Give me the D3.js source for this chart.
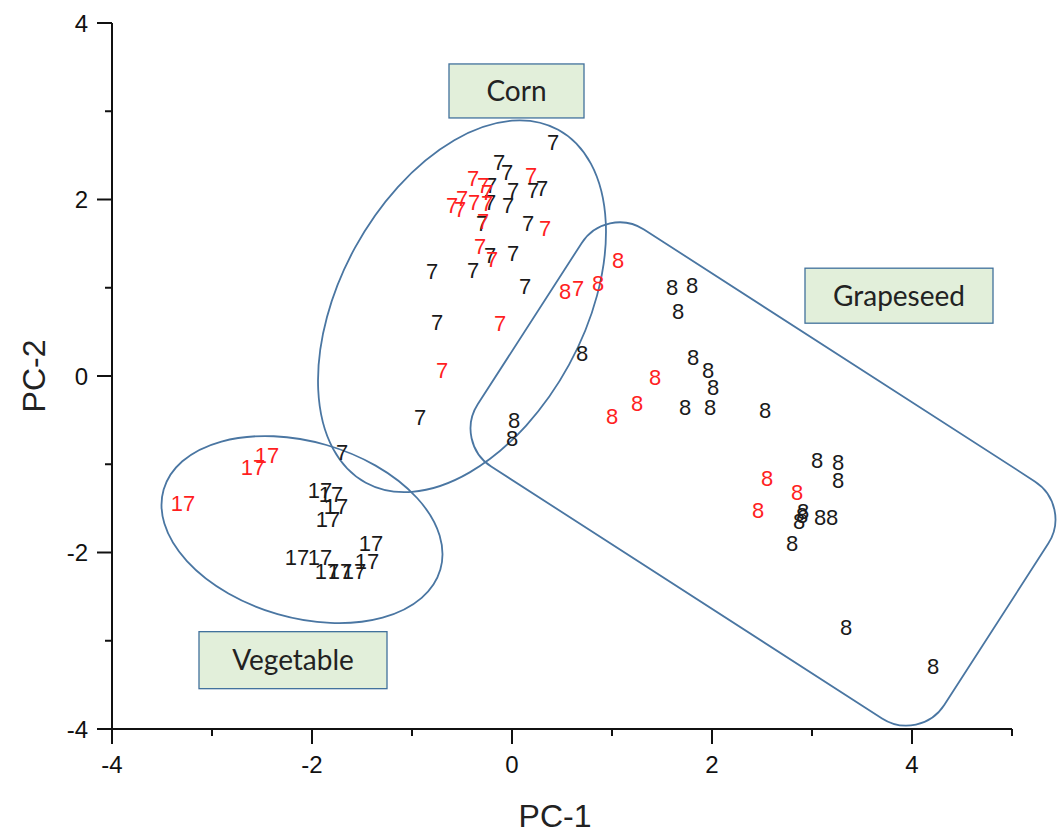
<!DOCTYPE html>
<html>
<head>
<meta charset="utf-8">
<script src="https://cdn.jsdelivr.net/npm/d3@7"></script>
<style>
  body { margin: 0; background: #fff; }
  svg { display: block; }
</style>
</head>
<body>
<div id="chart"></div>
<script>
// PC scores [PC-1, PC-2]
let cornBlack = [[0.41,2.65],[-0.13,2.42],[-0.05,2.31],[-0.21,2.16],[0.01,2.11],[0.21,2.11],[0.30,2.13],
  [-0.22,1.97],[-0.04,1.94],[-0.30,1.73],[0.16,1.73],[-0.22,1.37],[0.01,1.39],[-0.80,1.19],[-0.39,1.20],
  [0.13,1.02],[-0.75,0.61],[-0.92,-0.46],[-1.70,-0.86]];
let cornRed = [[0.19,2.28],[-0.39,2.24],[-0.29,2.16],[-0.25,2.08],[-0.50,2.02],[-0.60,1.94],[-0.52,1.89],
  [-0.38,1.97],[-0.25,1.96],[-0.29,1.75],[0.33,1.68],[-0.32,1.47],[-0.20,1.33],[-0.12,0.60],[-0.70,0.07],[0.66,1.00]];
let grapeBlack = [[0.70,0.26],[1.60,1.01],[1.80,1.03],[1.66,0.73],[1.81,0.22],[1.96,0.07],[2.01,-0.12],
  [1.73,-0.35],[1.98,-0.35],[2.53,-0.39],[0.02,-0.50],[0.00,-0.70],[3.05,-0.95],[3.26,-0.97],[3.26,-1.18],
  [2.90,-1.58],[2.91,-1.53],[2.87,-1.64],[3.08,-1.60],[3.20,-1.60],[2.80,-1.89],[3.34,-2.84],[4.21,-3.29]];
let grapeRed = [[1.06,1.31],[0.86,1.05],[0.53,0.96],[1.43,-0.01],[1.25,-0.31],[1.00,-0.45],
  [2.55,-1.16],[2.85,-1.31],[2.46,-1.52]];
let vegBlack = [[-1.92,-1.29],[-1.81,-1.34],[-1.76,-1.47],[-1.84,-1.62],[-1.41,-1.89],[-1.45,-2.10],
  [-2.15,-2.05],[-1.92,-2.05],[-1.85,-2.21],[-1.72,-2.21],[-1.58,-2.21]];
let vegRed = [[-3.29,-1.44],[-2.59,-1.03],[-2.45,-0.90]];

let xTicks = [-4,-2,0,2,4];
let yTicks = [-4,-2,0,2,4];

let width = 1057, height = 835;
let x = d3.scaleLinear().domain([-4, 5]).range([112, 1012]);
let y = d3.scaleLinear().domain([-4, 4]).range([729, 23]);

let svg = d3.select("#chart").append("svg")
  .attr("width", width).attr("height", height)
  .style("font-family", "'Liberation Sans', Arial, sans-serif");

// group outlines (centre in data units)
let outline = "#4a76a2";
let ellipses = [
  {cx: -0.50, cy: 0.79, rx: 201, ry: 122, rot: -61.4},
  {cx: -2.10, cy: -1.74, rx: 144, ry: 88, rot: 16.1}
];
svg.selectAll("ellipse.grp").data(ellipses).enter().append("ellipse")
  .attr("class", "grp")
  .attr("transform", d => "translate(" + x(d.cx) + "," + y(d.cy) + ") rotate(" + d.rot + ")")
  .attr("rx", d => d.rx).attr("ry", d => d.ry)
  .attr("fill", "none").attr("stroke", outline).attr("stroke-width", 1.8);

let grapeBox = {cx: 2.51, cy: -1.11, w: 555, h: 282, r: 45, rot: 32.8};
svg.append("rect")
  .attr("transform", "translate(" + x(grapeBox.cx) + "," + y(grapeBox.cy) + ") rotate(" + grapeBox.rot + ")")
  .attr("x", -grapeBox.w / 2).attr("y", -grapeBox.h / 2)
  .attr("width", grapeBox.w).attr("height", grapeBox.h)
  .attr("rx", grapeBox.r).attr("ry", grapeBox.r)
  .attr("fill", "none").attr("stroke", outline).attr("stroke-width", 1.8);

// axes
let axisG = svg.append("g");
axisG.append("line").attr("x1", x(-4)).attr("x2", x(5)).attr("y1", y(-4)).attr("y2", y(-4))
  .attr("stroke", "#111").attr("stroke-width", 2);
axisG.append("line").attr("x1", x(-4)).attr("x2", x(-4)).attr("y1", y(4)).attr("y2", y(-4))
  .attr("stroke", "#111").attr("stroke-width", 2);

d3.range(-4, 6).forEach(v => {
  let len = v % 2 === 0 ? 15 : 7;
  axisG.append("line").attr("x1", x(v)).attr("x2", x(v)).attr("y1", y(-4)).attr("y2", y(-4) + len)
    .attr("stroke", "#111").attr("stroke-width", 2);
});
d3.range(-4, 5).forEach(v => {
  let len = v % 2 === 0 ? 15 : 7;
  axisG.append("line").attr("x1", x(-4) - len).attr("x2", x(-4)).attr("y1", y(v)).attr("y2", y(v))
    .attr("stroke", "#111").attr("stroke-width", 2);
});

axisG.selectAll("text.xt").data(xTicks).enter().append("text")
  .attr("x", d => x(d)).attr("y", y(-4) + 44)
  .attr("text-anchor", "middle").attr("font-size", 24).attr("fill", "#111")
  .text(d => d);
axisG.selectAll("text.yt").data(yTicks).enter().append("text")
  .attr("x", x(-4) - 24).attr("y", d => y(d)).attr("dy", "0.36em")
  .attr("text-anchor", "end").attr("font-size", 24).attr("fill", "#111")
  .text(d => d);

svg.append("text").attr("x", 555).attr("y", 827).attr("text-anchor", "middle")
  .attr("font-size", 32).attr("fill", "#222").text("PC-1");
svg.append("text").attr("transform", "translate(45," + y(0) + ") rotate(-90)")
  .attr("text-anchor", "middle").attr("font-size", 32).attr("fill", "#222").text("PC-2");

// labelled points
let series = [
  {pts: cornBlack, label: "7", color: "#1a1a1a"},
  {pts: grapeBlack, label: "8", color: "#1a1a1a"},
  {pts: vegBlack, label: "17", color: "#1a1a1a"},
  {pts: cornRed, label: "7", color: "#ff1f1f"},
  {pts: grapeRed, label: "8", color: "#ff1f1f"},
  {pts: vegRed, label: "17", color: "#ff1f1f"}
];
series.forEach(s => {
  svg.append("g").selectAll("text").data(s.pts).enter().append("text")
    .attr("x", d => x(d[0])).attr("y", d => y(d[1])).attr("dy", "0.36em")
    .attr("text-anchor", "middle").attr("font-size", 22).attr("fill", s.color)
    .text(s.label);
});

// group name boxes (centre in data units)
let nameBoxes = [
  {name: "Corn", cx: 0.045, cy: 3.23, w: 135, h: 54},
  {name: "Grapeseed", cx: 3.87, cy: 0.91, w: 188, h: 55},
  {name: "Vegetable", cx: -2.19, cy: -3.22, w: 188, h: 57}
];
let nb = svg.selectAll("g.nb").data(nameBoxes).enter().append("g")
  .attr("transform", d => "translate(" + x(d.cx) + "," + y(d.cy) + ")");
nb.append("rect").attr("x", d => -d.w / 2).attr("y", d => -d.h / 2)
  .attr("width", d => d.w).attr("height", d => d.h)
  .attr("fill", "#e2efda").attr("stroke", "#41719c").attr("stroke-width", 1.3);
nb.append("text").attr("text-anchor", "middle").attr("dy", "0.35em")
  .attr("font-family", "Lato, 'Open Sans', sans-serif").attr("font-size", 28).attr("fill", "#222")
  .text(d => d.name);
</script>
</body>
</html>
